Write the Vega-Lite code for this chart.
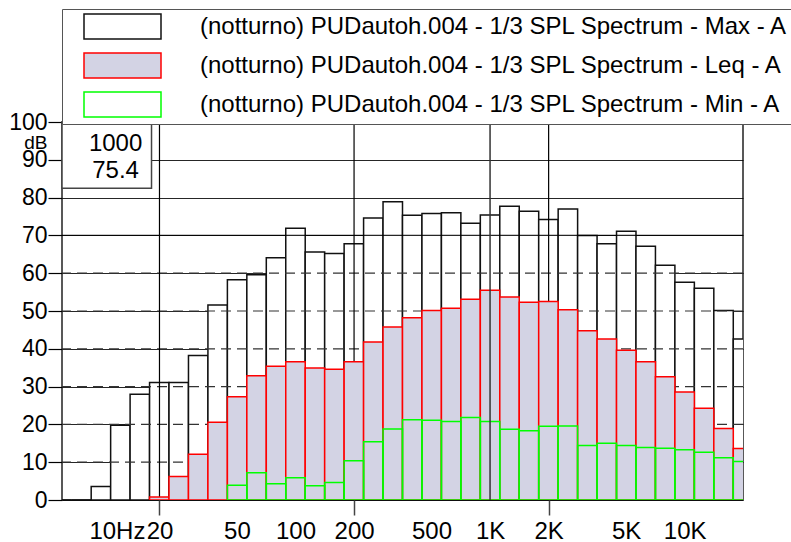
{
  "$schema": "https://vega.github.io/schema/vega-lite/v6.json",
  "width": 681,
  "height": 378,
  "autosize": {"type": "none"},
  "padding": {"left": 62, "top": 122, "right": 48, "bottom": 42},
  "background": "white",
  "config": {
    "font": "Liberation Sans",
    "view": {"stroke": "#222222", "strokeWidth": 1.5},
    "axis": {"labelFont": "Liberation Sans", "labelFontSize": 24, "labelColor": "#000000", "titleFont": "Liberation Sans", "titleColor": "#000000", "labelOverlap": false},
    "axisY": {"labelOverlap": false, "tickCount": 11, "labelSeparation": 0},
    "legend": {
      "padding": 4,
      "strokeColor": "#555555",
      "fillColor": "white",
      "symbolType": "M-3.08,-1H3.08V1H-3.08Z",
      "symbolSize": 625,
      "symbolStrokeWidth": 1.5,
      "symbolOffset": 43,
      "labelOffset": 64,
      "labelFont": "Liberation Sans",
      "labelFontSize": 24,
      "labelLimit": 1000,
      "rowPadding": 8
    }
  },
  "data": {
    "values": [
      {"f": 6.3, "max": 0, "leq": 0, "min": 0},
      {"f": 8, "max": 0, "leq": 0, "min": 0},
      {"f": 10, "max": 3.6, "leq": 0, "min": 0},
      {"f": 12.5, "max": 19.8, "leq": 0, "min": 0},
      {"f": 16, "max": 28.0, "leq": 0, "min": 0},
      {"f": 20, "max": 31.1, "leq": 0.8, "min": 0},
      {"f": 25, "max": 31.1, "leq": 6.2, "min": 0},
      {"f": 31.5, "max": 38.2, "leq": 12.1, "min": 0},
      {"f": 40, "max": 51.6, "leq": 20.6, "min": 0},
      {"f": 50, "max": 58.3, "leq": 27.3, "min": 3.9},
      {"f": 63, "max": 59.6, "leq": 32.9, "min": 7.2},
      {"f": 80, "max": 64.1, "leq": 35.4, "min": 4.3},
      {"f": 100, "max": 71.9, "leq": 36.6, "min": 5.9},
      {"f": 125, "max": 65.6, "leq": 34.9, "min": 3.8},
      {"f": 160, "max": 65.2, "leq": 34.6, "min": 4.6},
      {"f": 200, "max": 67.8, "leq": 36.6, "min": 10.4},
      {"f": 250, "max": 74.6, "leq": 41.8, "min": 15.4},
      {"f": 315, "max": 78.9, "leq": 45.8, "min": 18.8},
      {"f": 400, "max": 75.3, "leq": 48.2, "min": 21.2},
      {"f": 500, "max": 75.8, "leq": 50.1, "min": 21.1},
      {"f": 630, "max": 76.0, "leq": 50.7, "min": 20.8},
      {"f": 800, "max": 73.2, "leq": 53.1, "min": 21.8},
      {"f": 1000, "max": 75.4, "leq": 55.5, "min": 20.8},
      {"f": 1250, "max": 77.7, "leq": 53.7, "min": 18.7},
      {"f": 1600, "max": 76.4, "leq": 52.3, "min": 18.3},
      {"f": 2000, "max": 74.2, "leq": 52.5, "min": 19.5},
      {"f": 2500, "max": 77.0, "leq": 50.3, "min": 19.6},
      {"f": 3150, "max": 70.0, "leq": 44.8, "min": 14.4},
      {"f": 4000, "max": 67.8, "leq": 42.6, "min": 15.0},
      {"f": 5000, "max": 71.1, "leq": 39.6, "min": 14.4},
      {"f": 6300, "max": 67.1, "leq": 36.6, "min": 13.9},
      {"f": 8000, "max": 62.1, "leq": 32.6, "min": 13.7},
      {"f": 10000, "max": 57.6, "leq": 28.6, "min": 13.3},
      {"f": 12500, "max": 56.0, "leq": 24.3, "min": 12.6},
      {"f": 16000, "max": 50.1, "leq": 18.9, "min": 11.2},
      {"f": 20000, "max": 42.6, "leq": 13.6, "min": 10.2}
    ]
  },
  "layer": [
    {
      "transform": [
        {"calculate": "round(10*log(datum.f)/LN10)", "as": "k"},
        {"calculate": "pow(10, (datum.k-0.5)/10)", "as": "lo"},
        {"calculate": "pow(10, (datum.k+0.5)/10)", "as": "hi"}
      ],
      "mark": {"type": "rect", "clip": true, "strokeWidth": 1.5},
      "encoding": {
        "x": {
          "field": "lo", "type": "quantitative",
          "scale": {"type": "log", "domain": [6.3096, 19952.6], "nice": false},
          "axis": {
            "values": [10, 20, 50, 100, 200, 500, 1000, 2000, 5000, 10000],
            "labelExpr": "datum.value == 10 ? '10Hz' : (datum.value >= 1000 ? (datum.value/1000) + 'K' : '' + datum.value)",
            "title": null,
            "grid": false,
            "domain": false,
            "tickSize": 15,
            "tickWidth": 1.5,
            "tickColor": "#444444",
            "tickOpacity": {"condition": {"test": "datum.value == 20 || datum.value == 200 || datum.value == 2000", "value": 1}, "value": 0},
            "labelPadding": 4,
            "labelFlush": false,
            "labelOverlap": false,
            "labelAlign": {"condition": {"test": "datum.value == 10", "value": "left"}, "value": "center"},
            "labelOffset": {"condition": {"test": "datum.value == 10", "value": -12}, "value": 0}
          }
        },
        "x2": {"field": "hi"},
        "y": {
          "field": "max", "type": "quantitative",
          "scale": {"domain": [0, 100], "nice": false},
          "axis": {
            "values": [0, 10, 20, 30, 40, 50, 60, 70, 80, 90, 100],
            "tickCount": 11,
            "labelFontSize": 23,
            "title": "dB",
            "titleAngle": 0,
            "titleAlign": "right",
            "titleBaseline": "middle",
            "titleX": -15,
            "titleY": 20,
            "titleFontSize": 19,
            "titleFontWeight": "normal",
            "grid": true,
            "gridColor": "#000000",
            "gridWidth": 1.2,
            "gridOpacity": 0.85,
            "domain": false,
            "tickSize": 14,
            "tickColor": "#000000",
            "tickWidth": 1.2,
            "labelPadding": 1,
            "labelOverlap": false,
            "labelFlush": false
          }
        },
        "y2": {"datum": 0},
        "fill": {
          "datum": "Max", "type": "nominal",
          "scale": {"domain": ["Max", "Leq", "Min"], "range": ["#ffffff", "#d3d3e4", "transparent"]},
          "legend": {
            "title": null, "orient": "none", "legendX": 0, "legendY": -113,
            "labelExpr": "'(notturno) PUDautoh.004 - 1/3 SPL Spectrum - ' + datum.label + ' - A'",
            "encode": {"labels": {"update": {"fill": {"signal": "datum.value === 'Leq' ? '#ff0000' : (datum.value === 'Min' ? '#00ff00' : '#000000')"}}}}
          }
        },
        "stroke": {
          "datum": "Max", "type": "nominal",
          "scale": {"domain": ["Max", "Leq", "Min"], "range": ["#111111", "#ff0000", "#00ff00"]},
          "legend": {
            "title": null, "orient": "none", "legendX": 0, "legendY": -113,
            "labelExpr": "'(notturno) PUDautoh.004 - 1/3 SPL Spectrum - ' + datum.label + ' - A'",
            "encode": {"labels": {"update": {"fill": {"signal": "datum.value === 'Leq' ? '#ff0000' : (datum.value === 'Min' ? '#00ff00' : '#000000')"}}}}
          }
        }
      }
    },
    {
      "data": {"values": [{"g": 10}, {"g": 20}, {"g": 30}, {"g": 40}, {"g": 50}, {"g": 60}]},
      "mark": {"type": "rule", "strokeDash": [10, 6], "color": "#333333", "strokeWidth": 1.2},
      "encoding": {"y": {"field": "g", "type": "quantitative"}}
    },
    {
      "data": {"values": [{"g": 70}]},
      "mark": {"type": "rule", "color": "#000000", "strokeWidth": 1.2, "opacity": 0.85},
      "encoding": {"y": {"field": "g", "type": "quantitative"}}
    },
    {
      "data": {"values": [{"v": 20}, {"v": 200}, {"v": 2000}]},
      "mark": {"type": "rule", "color": "#000000", "strokeWidth": 1.2},
      "encoding": {"x": {"field": "v", "type": "quantitative"}}
    },
    {
      "transform": [
        {"filter": "datum.leq > 0"},
        {"calculate": "round(10*log(datum.f)/LN10)", "as": "k"},
        {"calculate": "pow(10, (datum.k-0.5)/10)", "as": "lo"},
        {"calculate": "pow(10, (datum.k+0.5)/10)", "as": "hi"}
      ],
      "mark": {"type": "rect", "clip": true, "strokeWidth": 1.5},
      "encoding": {
        "x": {"field": "lo", "type": "quantitative"},
        "x2": {"field": "hi"},
        "y": {"field": "leq", "type": "quantitative"},
        "y2": {"datum": 0},
        "fill": {"datum": "Leq", "type": "nominal"},
        "stroke": {"datum": "Leq", "type": "nominal"}
      }
    },
    {
      "transform": [
        {"filter": "datum.min > 0"},
        {"calculate": "round(10*log(datum.f)/LN10)", "as": "k"},
        {"calculate": "pow(10, (datum.k-0.5)/10)", "as": "lo"},
        {"calculate": "pow(10, (datum.k+0.5)/10)", "as": "hi"}
      ],
      "mark": {"type": "rect", "clip": true, "strokeWidth": 1.5},
      "encoding": {
        "x": {"field": "lo", "type": "quantitative"},
        "x2": {"field": "hi"},
        "y": {"field": "min", "type": "quantitative"},
        "y2": {"datum": 0},
        "fill": {"datum": "Min", "type": "nominal"},
        "stroke": {"datum": "Min", "type": "nominal"}
      }
    },
    {
      "data": {"values": [{"freq": 1000, "level": 75.4}]},
      "mark": {"type": "rect", "fill": "white", "stroke": "#444444", "strokeWidth": 1.5},
      "encoding": {
        "x": {"datum": 6.3096},
        "x2": {"datum": 18.2},
        "y": {"datum": 100},
        "y2": {"datum": 82.5}
      }
    },
    {
      "data": {"values": [{"freq": 1000, "level": 75.4}]},
      "mark": {"type": "text", "font": "Liberation Sans", "fontSize": 24, "align": "center", "baseline": "alphabetic", "color": "#000000"},
      "encoding": {
        "x": {"datum": 11.9},
        "y": {"datum": 92.3},
        "text": {"field": "freq", "type": "quantitative", "format": "d"}
      }
    },
    {
      "data": {"values": [{"freq": 1000, "level": 75.4}]},
      "mark": {"type": "text", "font": "Liberation Sans", "fontSize": 24, "align": "center", "baseline": "alphabetic", "color": "#000000"},
      "encoding": {
        "x": {"datum": 11.9},
        "y": {"datum": 85.3},
        "text": {"field": "level", "type": "quantitative", "format": ".1f"}
      }
    },
    {
      "data": {"values": [{"freq": 1000, "level": 75.4}]},
      "mark": {"type": "rule", "color": "#333333", "strokeWidth": 1.5},
      "encoding": {"x": {"field": "freq", "type": "quantitative"}}
    }
  ]
}
